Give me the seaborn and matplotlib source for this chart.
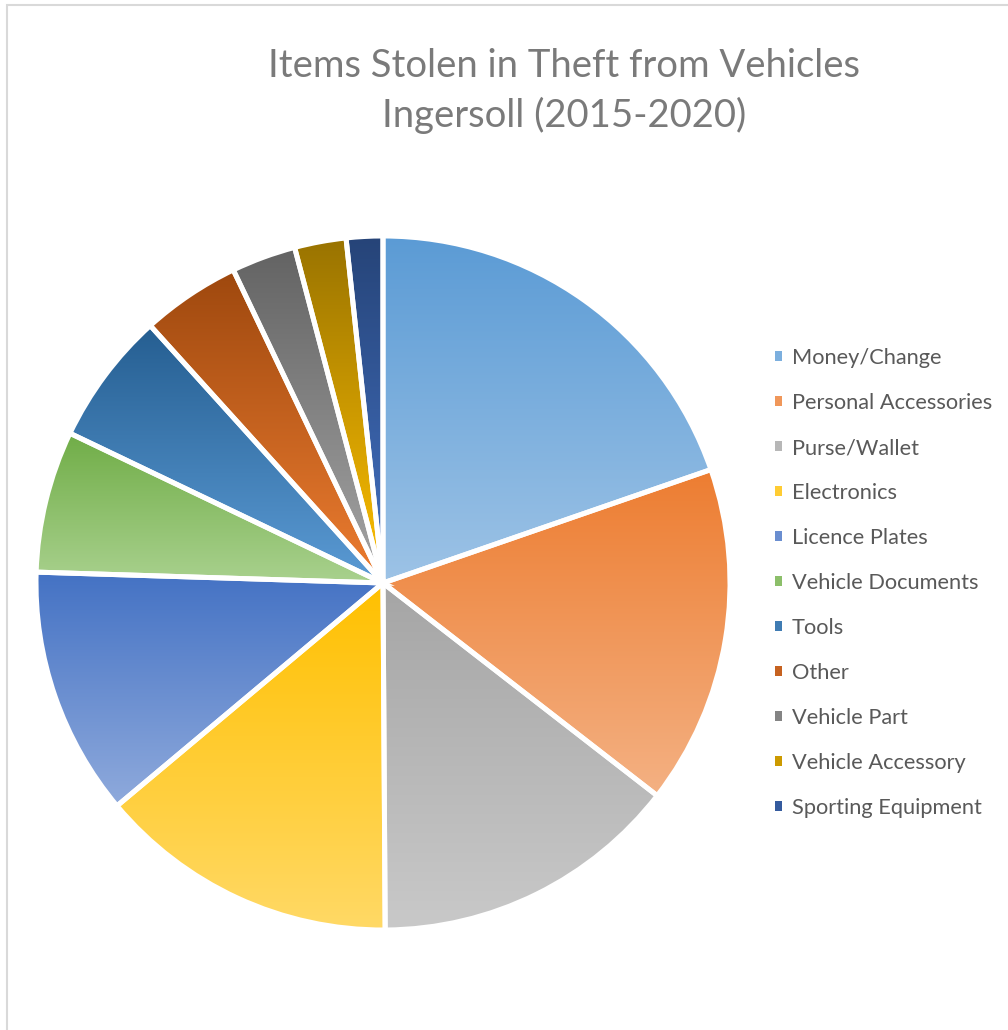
import numpy as np
import matplotlib
matplotlib.use('Agg')
import matplotlib.pyplot as plt
import matplotlib.colors as mcolors
from matplotlib.patches import Patch, Rectangle
from matplotlib import font_manager
import seaborn as sns

# Data (share of items, %)
categories = ['Money/Change', 'Personal Accessories', 'Purse/Wallet', 'Electronics',
              'Licence Plates', 'Vehicle Documents', 'Tools', 'Other',
              'Vehicle Part', 'Vehicle Accessory', 'Sporting Equipment']
shares = [19.7, 15.8, 14.4, 14.0, 11.6, 6.6, 6.2, 4.6, 3.0, 2.4, 1.7]

# Office-style colours: top of each slice -> bottom of each slice
top_colors = ['#5B9BD5', '#ED7D31', '#A5A5A5', '#FFC000', '#4472C4', '#70AD47',
              '#255E91', '#9E480E', '#636363', '#997300', '#264478']
bottom_colors = ['#9DC3E6', '#F4B183', '#C9C9C9', '#FFD966', '#8FAADC', '#A9D18E',
                 '#5B9BD5', '#ED7D31', '#A5A5A5', '#FFC000', '#4472C4']

title = 'Items Stolen in Theft from Vehicles\nIngersoll (2015-2020)'

sns.set_theme(style='white')
installed = {f.name for f in font_manager.fontManager.ttflist}
title_font = 'Liberation Sans Narrow' if 'Liberation Sans Narrow' in installed else 'Lato'
plt.rcParams['font.family'] = ['Lato', 'DejaVu Sans']

W, H = 1008, 1030
fig = plt.figure(figsize=(W / 100, H / 100), dpi=100)
fig.patch.set_facecolor('white')

# chart border (only left and top visible in the crop)
fig.patches.append(Rectangle((7 / W, -0.1), 1.2, (1030 - 5) / H + 0.1,
                             transform=fig.transFigure, fill=False,
                             edgecolor='#D9D9D9', linewidth=1.5))

# pie axes: centre (383, 583), radius ~347 px
cx, cy, r = 383, 583, 347
ax = fig.add_axes([(cx - r) / W, (H - cy - r) / H, 2 * r / W, 2 * r / H])

palette = sns.color_palette(top_colors)
wedges, _ = ax.pie(shares, colors=palette, startangle=90, counterclock=False,
                   radius=1.0,
                   wedgeprops=dict(edgecolor='white', linewidth=3.6, zorder=2))

# vertical gradient inside each wedge
for w, c0, c1 in zip(wedges, top_colors, bottom_colors):
    ext = w.get_path().get_extents()
    cmap = mcolors.LinearSegmentedColormap.from_list('g', [c0, c1])
    grad = np.linspace(0, 1, 256).reshape(-1, 1)
    im = ax.imshow(grad, cmap=cmap, aspect='auto', origin='upper',
                   extent=[ext.x0, ext.x1, ext.y0, ext.y1], zorder=1,
                   interpolation='bilinear')
    im.set_clip_path(w)
    w.set_facecolor('none')

ax.set_xlim(-1.0, 1.0)
ax.set_ylim(-1.0, 1.0)
ax.set_aspect('equal')
ax.axis('off')

fig.text(564 / W, 1 - 91 / H, title, ha='center', va='center', fontsize=27.5,
         color='#7A7A7A', family=[title_font, 'DejaVu Sans'], linespacing=1.45)

handles = [Patch(facecolor=mcolors.to_hex(np.mean([mcolors.to_rgb(a), mcolors.to_rgb(b)], axis=0)),
                 edgecolor='none') for a, b in zip(top_colors, bottom_colors)]
fig.legend(handles, categories, loc='center left',
           bbox_to_anchor=(775 / W, 1 - 583 / H), frameon=False,
           fontsize=15.7, labelcolor='#595959', handlelength=0.34, handleheight=0.34,
           handletextpad=0.42, labelspacing=1.145, borderpad=0, borderaxespad=0)

fig.savefig('out.png', dpi=100)
